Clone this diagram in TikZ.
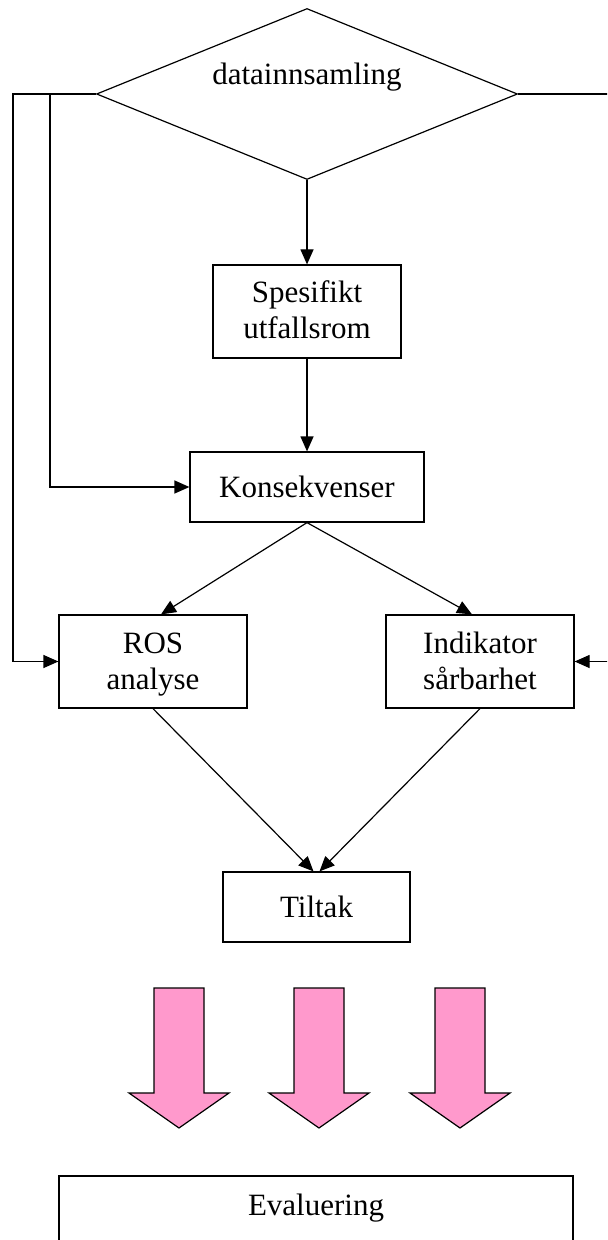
\documentclass[tikz,border=0pt]{standalone}
\usepackage{fontspec}
\setmainfont{Liberation Serif}
\usepackage{xcolor}
\usepackage{tikz}
\usetikzlibrary{arrows.meta,shapes.geometric}

\definecolor{pinkfill}{HTML}{FF99CC}

\begin{document}
\begin{tikzpicture}[x=0.5pt, y=-0.5pt, >={Triangle[length=7.5pt, width=6.5pt]}, line width=0.6pt,
    every node/.style={font=\fontsize{15.5}{18}\selectfont, align=center},
    box/.style={rectangle, draw, minimum width=94pt, minimum height=46.5pt},
    twoline/.style={box, text height=32pt, text depth=4.5pt}]
                \useasboundingbox (0,0) rectangle (607,1240);
                \clip (0,0) rectangle (607,1240);

                % Top: data collection
                \node[diamond, draw, aspect=2.46, minimum width=210.5pt, minimum height=85.5pt,
                      text height=10pt, text depth=19pt] (data) at (307,94) {datainnsamling};

                % Middle boxes
                \node[twoline] (spes) at (307,311.5) {Spesifikt\\utfallsrom};
                \node[box, minimum width=117pt, minimum height=35pt] (kons) at (307,487) {Konsekvenser};
                \node[twoline] (ros) at (153,661.5) {ROS\\analyse};
                \node[twoline] (ind) at (480,661.5) {Indikator\\sårbarhet};
                \node[box, minimum width=93.5pt, minimum height=35pt] (tilt) at (316.5,907) {Tiltak};

                % Bottom box (runs past the lower edge)
                \node[rectangle, draw, minimum width=257pt, minimum height=57pt,
                      text height=2pt, text depth=20pt] (eval) at (316,1233) {Evaluering};

                \draw[->] (data) -- (spes);
                \draw[->] (spes) -- (kons);
                \draw[->] (kons.south) -- ([xshift=4pt]ros.north);
                \draw[->] (kons.south) -- ([xshift=-4pt]ind.north);
                \draw[->] (ros.south) -- ([xshift=-1.5pt]tilt.north);
                \draw[->] (ind.south) -- ([xshift=1.5pt]tilt.north);

                % Feedback lines round the sides
                \coordinate (lo) at (13,94);
                \coordinate (li) at (50,94);
                \coordinate (ro) at (620,94);
                \draw[->] (data.west) -- (lo) |- (ros.west);
                \draw[->] (li) |- (kons.west);
                \draw[->] (data.east) -- (ro) |- (ind.east);

                % Pink block arrows
                \foreach \c in {179,319,460}
                    \filldraw[fill=pinkfill] (\c-25,988) -- (\c+25,988) -- (\c+25,1093) -- (\c+50,1093)
                        -- (\c,1128) -- (\c-50,1093) -- (\c-25,1093) -- cycle;
            \end{tikzpicture}
\end{document}
